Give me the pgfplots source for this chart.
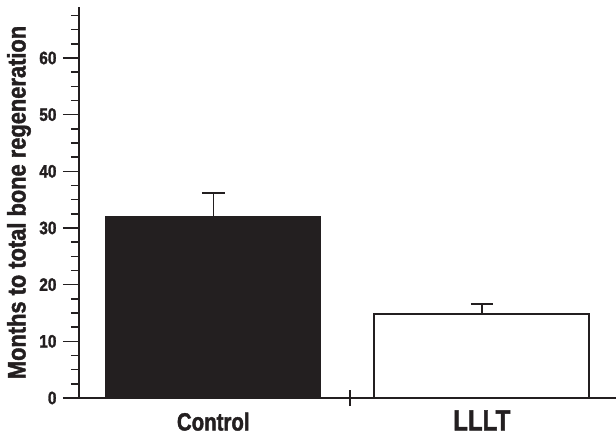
\documentclass[border=0pt]{standalone}
\usepackage{fontspec}
\setmainfont{Liberation Sans}[FakeStretch=0.82, BoldFeatures={FakeBold=1.6}]
\newfontfamily\ylabfont{Liberation Sans}[FakeStretch=0.86, BoldFeatures={FakeBold=1.6}]
\usepackage{pgfplots}
\pgfplotsset{compat=1.18}
\definecolor{barblack}{HTML}{231F20}
\begin{document}
\begin{tikzpicture}
\begin{axis}[
  scale only axis, width=537bp, height=391bp,
  xmin=-0.5, xmax=1.5, ymin=0, ymax=69,
  axis x line=bottom, axis y line=left,
  axis line style={-, line width=1.6bp, color=barblack},
  /pgf/number format/assume math mode=true,
  tick align=outside,
  ytick={0,10,...,60},
  minor ytick={2.5,5,...,67.5},
  major tick length=16bp, minor tick length=8bp,
  y tick style={line width=1.6bp, color=barblack},
  yticklabel style={font=\ylabfont\bfseries\fontsize{18}{18}\selectfont, color=barblack, xshift=-3bp},
  xtick={0.51}, xticklabels={},
  x tick style={line width=1.6bp, color=barblack},
  xtick align=center,
  extra x ticks={0,1},
  extra x tick labels={{\fontsize{25}{25}\selectfont Control},{\fontsize{29.5}{29.5}\selectfont LLLT}},
  extra x tick style={tick style={draw=none}, ticklabel style={font=\bfseries, color=barblack, anchor=base, inner sep=0pt, yshift=-24.5bp}},
  ylabel={Months to total bone regeneration},
  ylabel style={font=\ylabfont\bfseries\fontsize{25.5}{25.5}\selectfont, color=barblack, at={(axis description cs:0,0.5)}, anchor=center, yshift=60bp},
  clip=false,
]
\coordinate (O) at (rel axis cs:0,0);
\coordinate (T) at (rel axis cs:1,1);
\addplot[ybar, bar width=0.8, fill=barblack, draw=barblack, line width=1.6bp,
  error bars/.cd, y dir=plus, y explicit,
  error bar style={line width=1.5bp, color=barblack},
  error mark options={rotate=90, mark size=11.5bp, line width=2bp, color=barblack}]
  coordinates {(0,31.9) +- (0,4.3)};
\addplot[ybar, bar width=0.8, fill=white, draw=barblack, line width=2bp,
  error bars/.cd, y dir=plus, y explicit,
  error bar style={line width=1.5bp, color=barblack},
  error mark options={rotate=90, mark size=11bp, line width=2bp, color=barblack}]
  coordinates {(1,14.8) +- (0,1.8)};
\end{axis}
\pgfresetboundingbox
\path ([shift={(-79bp,-38bp)}]O) rectangle ([shift={(0bp,7bp)}]T);
\end{tikzpicture}
\end{document}
